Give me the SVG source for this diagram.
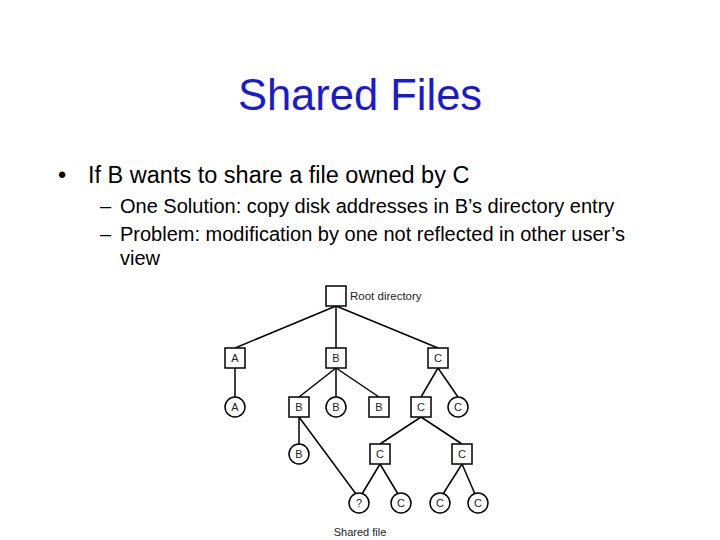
<svg xmlns="http://www.w3.org/2000/svg" width="720" height="540" viewBox="0 0 720 540">
<style>
text{font-family:"Liberation Sans",Arial,sans-serif}
.b{fill:#fff;stroke:#000;stroke-width:1.5}
.l{font-size:11px;text-anchor:middle;fill:#222}
#conn line{stroke:#000;stroke-width:1.5}
</style>
<rect width="720" height="540" fill="#fff"/>
<text x="360" y="110" font-size="43.5" fill="#1a1ad0" text-anchor="middle">Shared Files</text>
<text x="58" y="183" font-size="23.5">•</text>
<text x="88" y="183" font-size="23.5">If B wants to share a file owned by C</text>
<text x="100" y="213" font-size="20">–</text>
<text x="120" y="213" font-size="20">One Solution: copy disk addresses in B’s directory entry</text>
<text x="100" y="241" font-size="20">–</text>
<text x="120" y="241" font-size="20">Problem: modification by one not reflected in other user’s</text>
<text x="120" y="265" font-size="20">view</text>
<g id="conn">
<line x1="336" y1="306" x2="235" y2="348"/><line x1="336" y1="306" x2="336" y2="348"/><line x1="336" y1="306" x2="438" y2="348"/>
<line x1="235" y1="368" x2="235" y2="397"/>
<line x1="336" y1="368" x2="299" y2="397"/><line x1="336" y1="368" x2="336" y2="397"/><line x1="336" y1="368" x2="379" y2="397"/>
<line x1="438" y1="368" x2="421" y2="397"/><line x1="438" y1="368" x2="458" y2="397"/>
<line x1="299" y1="417" x2="299" y2="444"/><line x1="299" y1="417" x2="356" y2="494"/>
<line x1="421" y1="417" x2="380" y2="444"/><line x1="421" y1="417" x2="462" y2="444"/>
<line x1="380" y1="464" x2="362" y2="494"/><line x1="380" y1="464" x2="398" y2="494"/>
<line x1="462" y1="464" x2="443" y2="494"/><line x1="462" y1="464" x2="475" y2="494"/>
</g>
<g id="root"><rect class="b" x="326" y="286" width="20" height="20"/><text x="350" y="300" font-size="11.5" fill="#222">Root directory</text></g>
<g id="dA"><rect class="b" x="225" y="348" width="20" height="20"/><text class="l" x="235" y="362">A</text></g>
<g id="dB"><rect class="b" x="326" y="348" width="20" height="20"/><text class="l" x="336" y="362">B</text></g>
<g id="dC"><rect class="b" x="428" y="348" width="20" height="20"/><text class="l" x="438" y="362">C</text></g>
<g id="fA"><circle class="b" cx="235" cy="407" r="10"/><text class="l" x="235" y="411">A</text></g>
<g id="dB2"><rect class="b" x="289" y="397" width="20" height="20"/><text class="l" x="299" y="411">B</text></g>
<g id="fB1"><circle class="b" cx="336" cy="407" r="10"/><text class="l" x="336" y="411">B</text></g>
<g id="dB3"><rect class="b" x="369" y="397" width="20" height="20"/><text class="l" x="379" y="411">B</text></g>
<g id="dC2"><rect class="b" x="411" y="397" width="20" height="20"/><text class="l" x="421" y="411">C</text></g>
<g id="fC1"><circle class="b" cx="458" cy="407" r="10"/><text class="l" x="458" y="411">C</text></g>
<g id="fB2"><circle class="b" cx="299" cy="454" r="10"/><text class="l" x="299" y="458">B</text></g>
<g id="dC3"><rect class="b" x="370" y="444" width="20" height="20"/><text class="l" x="380" y="458">C</text></g>
<g id="dC4"><rect class="b" x="452" y="444" width="20" height="20"/><text class="l" x="462" y="458">C</text></g>
<g id="fQ"><circle class="b" cx="359" cy="503" r="10"/><text class="l" x="359" y="507">?</text></g>
<g id="fC2"><circle class="b" cx="401" cy="503" r="10"/><text class="l" x="401" y="507">C</text></g>
<g id="fC3"><circle class="b" cx="440" cy="503" r="10"/><text class="l" x="440" y="507">C</text></g>
<g id="fC4"><circle class="b" cx="478" cy="503" r="10"/><text class="l" x="478" y="507">C</text></g>
<text class="l" x="360" y="536">Shared file</text>
</svg>
